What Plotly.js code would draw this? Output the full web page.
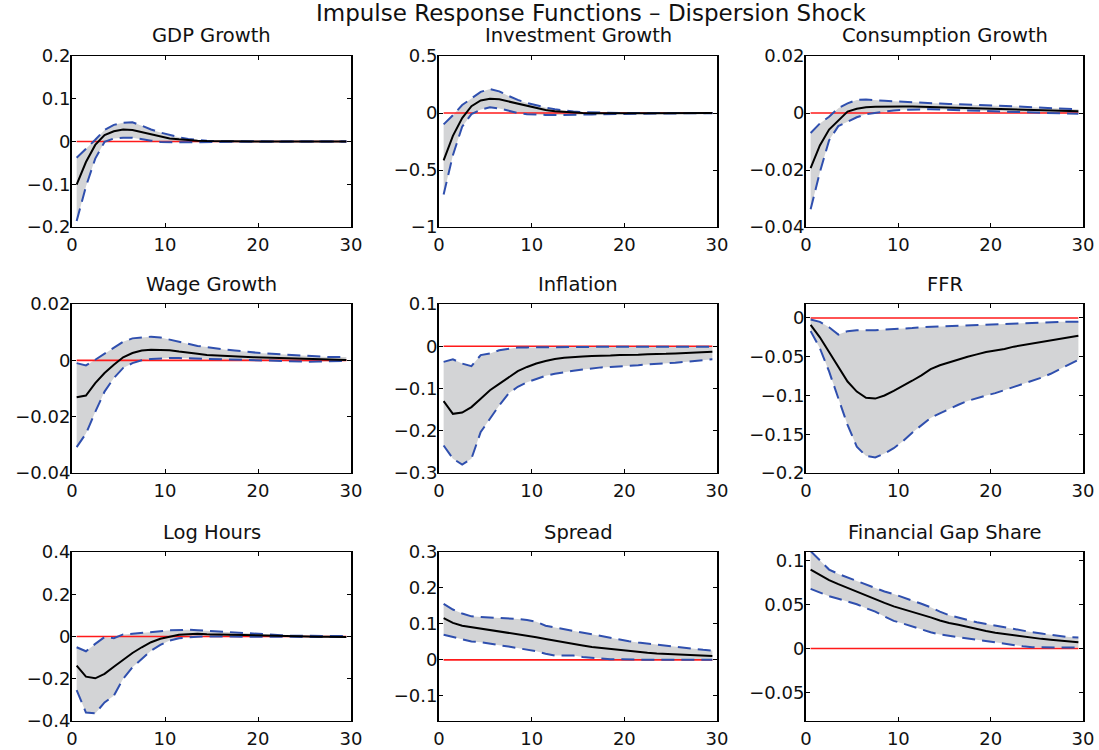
<!DOCTYPE html>
<html>
<head>
<meta charset="utf-8">
<script src="https://cdn.plot.ly/plotly-3.0.1.min.js"></script>
<style>html,body{margin:0;padding:0;background:#fff;}#chart{width:1099px;height:750px;}</style>
</head>
<body>
<div id="chart"></div>
<script>
// Horizon (quarters)
const horizon = [0.5,1.5,2.5,3.5,4.5,5.5,6.5,7.5,8.5,9.5,10.5,11.5,12.5,13.5,14.5,15.5,16.5,17.5,18.5,19.5,20.5,21.5,22.5,23.5,24.5,25.5,26.5,27.5,28.5,29.5];

const mainTitle = "Impulse Response Functions – Dispersion Shock";
const panelTitles = ["GDP Growth","Investment Growth","Consumption Growth","Wage Growth","Inflation","FFR","Log Hours","Spread","Financial Gap Share"];

// GDP Growth
const gdpMedian = [-0.101,-0.048,-0.008,0.015,0.024,0.028,0.027,0.022,0.016,0.011,0.007,0.005,0.003,0.002,0.001,0.0006,0.0003,0.0002,0.0001,0,0,0,0,0,0,0,0,0,0,0];
const gdpUpper  = [-0.038,-0.018,0.004,0.027,0.039,0.044,0.045,0.037,0.028,0.021,0.015,0.010,0.006,0.003,0.0015,0.0008,0.0005,0.0004,0.0003,0.0002,0.0002,0.0001,0.0001,0.0001,0.0001,0.0001,0.0001,0.0001,0.0001,0.0001];
const gdpLower  = [-0.186,-0.105,-0.040,-0.001,0.007,0.009,0.009,0.005,0.002,-0.001,-0.002,-0.002,-0.002,-0.0015,-0.001,-0.001,-0.0008,-0.0006,-0.0005,-0.0004,-0.0003,-0.0003,-0.0002,-0.0002,-0.0002,-0.0001,-0.0001,-0.0001,-0.0001,-0.0001];

// Investment Growth
const invMedian = [-0.415,-0.20,-0.045,0.06,0.11,0.125,0.12,0.10,0.08,0.06,0.04,0.026,0.015,0.008,0.003,0.0,-0.002,-0.003,-0.003,-0.003,-0.003,-0.002,-0.002,-0.002,-0.001,-0.001,-0.001,-0.001,-0.001,-0.001];
const invUpper  = [-0.10,-0.02,0.07,0.13,0.185,0.21,0.19,0.15,0.115,0.088,0.066,0.048,0.033,0.021,0.013,0.007,0.004,0.002,0.001,0.001,0.001,0.001,0.001,0.001,0.001,0.001,0.001,0.001,0.001,0.001];
const invLower  = [-0.715,-0.37,-0.12,-0.01,0.03,0.05,0.04,0.02,0.0,-0.01,-0.015,-0.017,-0.018,-0.018,-0.017,-0.015,-0.013,-0.011,-0.009,-0.008,-0.007,-0.006,-0.005,-0.004,-0.004,-0.003,-0.003,-0.002,-0.002,-0.002];

// Consumption Growth
const conMedian = [-0.0193,-0.0114,-0.0058,-0.0025,0.0005,0.0015,0.002,0.0022,0.0023,0.0023,0.0023,0.0023,0.0022,0.0022,0.0021,0.002,0.0019,0.0018,0.0017,0.0016,0.0015,0.0014,0.0013,0.0012,0.0011,0.001,0.0009,0.0008,0.0007,0.0006];
const conUpper  = [-0.007,-0.0037,-0.0013,0.0017,0.0034,0.0046,0.0047,0.0046,0.0043,0.0041,0.0039,0.0038,0.0036,0.0034,0.0033,0.0032,0.0031,0.0029,0.0028,0.0027,0.0026,0.0024,0.0023,0.0022,0.002,0.0019,0.0017,0.0016,0.0014,0.0013];
const conLower  = [-0.0338,-0.0208,-0.0096,-0.0046,-0.0031,-0.0015,-0.0004,0.0001,0.0005,0.0009,0.0011,0.0012,0.0013,0.0013,0.0012,0.0011,0.001,0.0008,0.0007,0.0005,0.0004,0.0003,0.0002,0.0001,0.0,-0.0001,-0.0002,-0.0002,-0.0003,-0.0003];

// Wage Growth
const wagMedian = [-0.0131,-0.0125,-0.0081,-0.0045,-0.0016,0.0011,0.0026,0.0035,0.0038,0.0038,0.0036,0.0031,0.0026,0.0023,0.0019,0.0017,0.0015,0.0013,0.0012,0.0011,0.001,0.0009,0.0007,0.0006,0.0005,0.0004,0.0003,0.0002,0.0002,0.0001];
const wagUpper  = [-0.001,-0.0018,0.0002,0.0023,0.0047,0.0066,0.0078,0.0082,0.0084,0.0081,0.0074,0.0066,0.0059,0.0051,0.0047,0.0042,0.0038,0.0035,0.0031,0.0028,0.0025,0.0023,0.0021,0.0019,0.0017,0.0015,0.0013,0.0012,0.0012,0.0012];
const wagLower  = [-0.0308,-0.026,-0.0183,-0.0111,-0.0063,-0.0027,-0.001,0.0,0.0005,0.0007,0.0008,0.0008,0.0007,0.0006,0.0005,0.0004,0.0003,0.0001,0.0,0.0,0.0,-0.0001,-0.0002,-0.0003,-0.0005,-0.0005,-0.0004,-0.0003,-0.0002,-0.0002];

// Inflation
const infMedian = [-0.13,-0.16,-0.157,-0.144,-0.124,-0.104,-0.089,-0.073,-0.059,-0.049,-0.041,-0.035,-0.030,-0.027,-0.025,-0.024,-0.023,-0.023,-0.022,-0.021,-0.021,-0.020,-0.019,-0.019,-0.018,-0.017,-0.016,-0.015,-0.014,-0.013];
const infUpper  = [-0.037,-0.031,-0.041,-0.047,-0.021,-0.017,-0.0095,-0.0055,-0.003,-0.0027,-0.0025,-0.002,-0.0016,-0.001,-0.0005,0.0,-0.0005,-0.001,-0.001,-0.001,-0.001,-0.001,-0.001,-0.001,-0.001,-0.001,-0.001,-0.001,-0.001,-0.001];
const infLower  = [-0.235,-0.266,-0.28,-0.266,-0.203,-0.171,-0.14,-0.112,-0.096,-0.085,-0.077,-0.07,-0.065,-0.061,-0.058,-0.055,-0.052,-0.05,-0.049,-0.048,-0.047,-0.045,-0.043,-0.042,-0.04,-0.039,-0.037,-0.035,-0.033,-0.031];

// FFR
const ffrMedian = [-0.009,-0.025,-0.044,-0.063,-0.082,-0.095,-0.103,-0.104,-0.100,-0.094,-0.088,-0.081,-0.074,-0.066,-0.061,-0.057,-0.053,-0.050,-0.047,-0.044,-0.042,-0.040,-0.037,-0.035,-0.033,-0.031,-0.029,-0.027,-0.025,-0.023];
const ffrUpper  = [-0.002,-0.005,-0.012,-0.0215,-0.017,-0.016,-0.016,-0.016,-0.015,-0.0145,-0.014,-0.013,-0.012,-0.0115,-0.011,-0.0105,-0.01,-0.0095,-0.009,-0.0085,-0.008,-0.0075,-0.007,-0.0065,-0.006,-0.0055,-0.005,-0.005,-0.005,-0.005];
const ffrLower  = [-0.017,-0.039,-0.069,-0.103,-0.138,-0.166,-0.178,-0.18,-0.175,-0.168,-0.159,-0.148,-0.138,-0.129,-0.123,-0.117,-0.112,-0.107,-0.103,-0.100,-0.097,-0.093,-0.089,-0.085,-0.081,-0.077,-0.072,-0.066,-0.060,-0.054];

// Log Hours
const hrsMedian = [-0.138,-0.19,-0.198,-0.177,-0.143,-0.109,-0.078,-0.051,-0.027,-0.011,0.0,0.008,0.011,0.013,0.011,0.01,0.008,0.006,0.004,0.003,0.002,0.001,0.001,0.0,0.0,0.0,-0.001,-0.001,-0.002,-0.002];
const hrsUpper  = [-0.051,-0.07,-0.035,-0.003,-0.008,0.01,0.013,0.016,0.021,0.025,0.029,0.032,0.032,0.03,0.027,0.024,0.021,0.018,0.015,0.012,0.01,0.008,0.006,0.004,0.003,0.002,0.002,0.002,0.002,0.002];
const hrsLower  = [-0.254,-0.36,-0.364,-0.312,-0.28,-0.2,-0.146,-0.106,-0.067,-0.04,-0.019,-0.008,-0.003,-0.001,0.0,0.0,0.0,0.0,-0.001,-0.002,-0.002,-0.002,-0.003,-0.003,-0.003,-0.003,-0.003,-0.003,-0.003,-0.003];

// Spread
const sprMedian = [0.116,0.103,0.095,0.091,0.088,0.085,0.081,0.077,0.072,0.068,0.063,0.058,0.053,0.048,0.044,0.040,0.036,0.033,0.030,0.027,0.024,0.022,0.020,0.018,0.017,0.015,0.014,0.013,0.012,0.011];
const sprUpper  = [0.156,0.14,0.129,0.121,0.119,0.118,0.117,0.116,0.114,0.111,0.106,0.095,0.09,0.087,0.082,0.077,0.071,0.065,0.060,0.056,0.052,0.048,0.045,0.042,0.038,0.035,0.032,0.030,0.028,0.026];
const sprLower  = [0.07,0.063,0.058,0.051,0.049,0.046,0.041,0.037,0.033,0.03,0.024,0.017,0.012,0.012,0.012,0.008,0.005,0.004,0.002,0.001,0.001,0.0,0.0,0.0,0.0,0.0,0.0,0.0,0.0,0.0];

// Financial Gap Share
const fgsMedian = [0.090,0.0837,0.078,0.0734,0.069,0.0645,0.060,0.056,0.052,0.048,0.045,0.0415,0.0385,0.0355,0.032,0.029,0.027,0.0245,0.022,0.020,0.018,0.0165,0.015,0.0135,0.012,0.011,0.010,0.009,0.008,0.0072];
const fgsUpper  = [0.111,0.101,0.09,0.085,0.081,0.077,0.073,0.069,0.065,0.062,0.0585,0.055,0.051,0.047,0.042,0.038,0.035,0.0325,0.030,0.028,0.026,0.024,0.022,0.020,0.0185,0.017,0.0155,0.014,0.013,0.0125];
const fgsLower  = [0.068,0.0635,0.0597,0.0567,0.0535,0.0505,0.046,0.042,0.0365,0.0315,0.0285,0.025,0.0215,0.0185,0.016,0.0145,0.013,0.0115,0.0095,0.008,0.0065,0.005,0.0035,0.0025,0.0015,0.0011,0.0011,0.0011,0.0011,0.0011];

// y-axis limits and tick steps per panel
const yRanges = [[-0.2,0.2],[-1,0.5],[-0.04,0.02],[-0.04,0.02],[-0.3,0.1],[-0.2,0.018],[-0.4,0.4],[-0.17,0.3],[-0.0826,0.110]];
const yDticks = [0.1,0.5,0.02,0.02,0.1,0.05,0.2,0.1,0.05];
const xTicks = [0,10,20,30];

const panels = [
  [gdpMedian,gdpUpper,gdpLower],[invMedian,invUpper,invLower],[conMedian,conUpper,conLower],
  [wagMedian,wagUpper,wagLower],[infMedian,infUpper,infLower],[ffrMedian,ffrUpper,ffrLower],
  [hrsMedian,hrsUpper,hrsLower],[sprMedian,sprUpper,sprLower],[fgsMedian,fgsUpper,fgsLower]
];

const W = 1099, H = 750;
const colPx = [[72,351],[439,717],[806,1083]];
const rowPx = [[56,227],[304,473],[552,721]];

const FONT = "DejaVu Sans";
const TXT = "#111";
const BAND = "#d3d4d6";
const BLUE = "#2f4fae";

const traces = [];
const layout = {
  width: W, height: H,
  margin: {l:0, r:0, t:0, b:0},
  paper_bgcolor: "#fff", plot_bgcolor: "#fff",
  showlegend: false,
  font: {family: FONT, color: TXT, size: 18},
  annotations: []
};

panels.forEach((p, i) => {
  const [med, up, lo] = p;
  const n = i === 0 ? "" : String(i + 1);
  const xa = "x" + n, ya = "y" + n;
  const c = i % 3, r = Math.floor(i / 3);
  const zero = horizon.map(() => 0);
  traces.push({x: horizon, y: lo, xaxis: xa, yaxis: ya, mode: "lines", line: {width: 0, color: BAND}, hoverinfo: "skip"});
  traces.push({x: horizon, y: up, xaxis: xa, yaxis: ya, mode: "lines", line: {width: 0, color: BAND}, fill: "tonexty", fillcolor: BAND, hoverinfo: "skip"});
  traces.push({x: horizon, y: zero, xaxis: xa, yaxis: ya, mode: "lines", line: {width: 1.6, color: "#ff1a1a"}});
  traces.push({x: horizon, y: up, xaxis: xa, yaxis: ya, mode: "lines", line: {width: 2, color: BLUE, dash: "13px,7px"}});
  traces.push({x: horizon, y: lo, xaxis: xa, yaxis: ya, mode: "lines", line: {width: 2, color: BLUE, dash: "13px,7px"}});
  traces.push({x: horizon, y: med, xaxis: xa, yaxis: ya, mode: "lines", line: {width: 2, color: "#000"}});

  const xd = [colPx[c][0] / W, colPx[c][1] / W];
  const yd = [1 - rowPx[r][1] / H, 1 - rowPx[r][0] / H];
  layout["xaxis" + n] = {
    domain: xd, anchor: ya, range: [0, 30], tickmode: "array", tickvals: xTicks,
    ticks: "inside", ticklen: 4, tickwidth: 1, tickcolor: "#000",
    showline: true, linecolor: "#000", linewidth: 1.3, mirror: "ticks",
    showgrid: false, zeroline: false, fixedrange: true, ticklabelstandoff: 1,
    tickfont: {family: FONT, size: 18, color: TXT}
  };
  layout["yaxis" + n] = {
    domain: yd, anchor: xa, range: yRanges[i], dtick: yDticks[i], tick0: 0,
    ticks: "inside", ticklen: 4, tickwidth: 1, tickcolor: "#000",
    showline: true, linecolor: "#000", linewidth: 2, mirror: "ticks",
    showgrid: false, zeroline: false, fixedrange: true, ticklabelstandoff: -4,
    tickfont: {family: FONT, size: 18, color: TXT}
  };
  layout.annotations.push({
    text: panelTitles[i], xref: "paper", yref: "paper",
    x: (xd[0] + xd[1]) / 2, y: yd[1], xanchor: "center", yanchor: "middle",
    yshift: 20, showarrow: false, font: {family: FONT, size: 19.5, color: TXT}
  });
});

layout.annotations.push({
  text: mainTitle, xref: "paper", yref: "paper",
  x: 591 / W, y: 1, xanchor: "center", yanchor: "top", borderpad: 0, yshift: 1,
  showarrow: false, font: {family: FONT, size: 23, color: TXT}
});

Plotly.newPlot("chart", traces, layout, {displayModeBar: false, staticPlot: true});
</script>
</body>
</html>
